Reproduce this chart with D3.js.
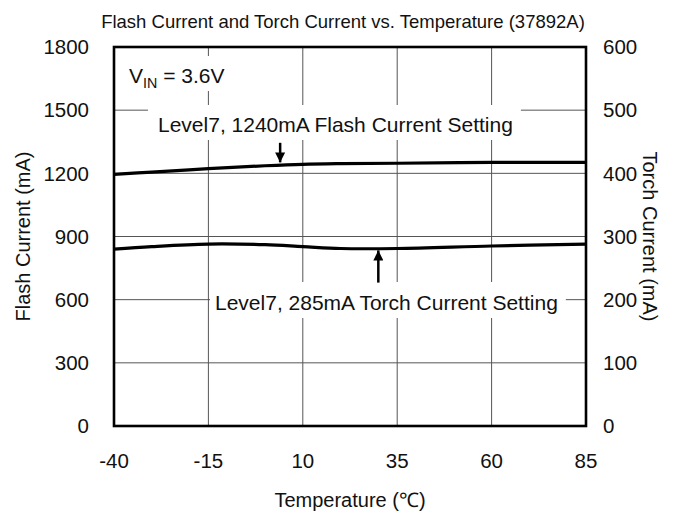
<!DOCTYPE html>
<html>
<head>
<meta charset="utf-8">
<script src="https://cdn.jsdelivr.net/npm/d3@7"></script>
<style>
  html, body { margin: 0; padding: 0; background: #fff; overflow: hidden; }
  svg { display: block; }
  text { font-family: "Liberation Sans", Arial, sans-serif; fill: #111; }
</style>
</head>
<body>
<svg id="chart" width="685" height="512"></svg>
<script>
// data
const temps = [-40, -30, -15, 0, 10, 20, 35, 60, 85];
const flashCurrent = [1195, 1206, 1222, 1236, 1243, 1246, 1248, 1252, 1252]; // mA, left axis
const torchCurrent = [280, 284, 288, 287, 284, 281, 281, 285, 288];          // mA, right axis
const xTicks = [-40, -15, 10, 35, 60, 85];
const flashTicks = [0, 300, 600, 900, 1200, 1500, 1800];
const torchTicks = [0, 100, 200, 300, 400, 500, 600];

let margin = {top: 47, right: 99, bottom: 86, left: 114};
let width = 685, height = 512;
let innerWidth = width - margin.left - margin.right;
let innerHeight = height - margin.top - margin.bottom;

let x = d3.scaleLinear().domain([-40, 85]).range([0, innerWidth]);
let yFlash = d3.scaleLinear().domain([0, 1800]).range([innerHeight, 0]);
let yTorch = d3.scaleLinear().domain([0, 600]).range([innerHeight, 0]);

let svg = d3.select("#chart");
let g = svg.append("g").attr("transform", "translate(" + margin.left + "," + margin.top + ")");

// grid
g.append("g").selectAll("line").data(xTicks.slice(1, -1)).join("line")
  .attr("x1", d => x(d)).attr("x2", d => x(d))
  .attr("y1", 0).attr("y2", innerHeight)
  .attr("stroke", "#555").attr("stroke-width", 1);
g.append("g").selectAll("line").data(flashTicks.slice(1, -1)).join("line")
  .attr("x1", 0).attr("x2", innerWidth)
  .attr("y1", d => yFlash(d)).attr("y2", d => yFlash(d))
  .attr("stroke", "#555").attr("stroke-width", 1);

// labels with white boxes (they hide the grid behind them)
function label(px, py, parts, size, pad) {
  let lg = g.append("g");
  let rect = lg.append("rect").attr("fill", "#fff");
  let t = lg.append("text").attr("x", px).attr("y", py).attr("font-size", size);
  parts.forEach(p => {
    let s = t.append("tspan").text(p.t);
    if (p.sub) s.attr("font-size", size * 0.68).attr("dy", 5);
    if (p.back) s.attr("dy", -5);
  });
  let b = t.node().getBBox();
  rect.attr("x", b.x - pad[0]).attr("y", b.y - pad[1])
    .attr("width", b.width + pad[0] + pad[2]).attr("height", b.height + pad[1] + pad[3]);
}

label(15, 36, [{t: "V"}, {t: "IN", sub: true}, {t: " = 3.6V", back: true}], 21, [6, 8, 6, 0]);
label(44, 85, [{t: "Level7, 1240mA Flash Current Setting"}], 21, [10, 8, 8, 4]);
label(101, 263, [{t: "Level7, 285mA Torch Current Setting"}], 21, [5, 9, 8, 4]);

// curves
let flashLine = d3.line().x((d, i) => x(temps[i])).y(d => yFlash(d)).curve(d3.curveCatmullRom);
let torchLine = d3.line().x((d, i) => x(temps[i])).y(d => yTorch(d)).curve(d3.curveCatmullRom);
g.append("path").datum(flashCurrent).attr("d", flashLine)
  .attr("fill", "none").attr("stroke", "#000").attr("stroke-width", 3.2);
g.append("path").datum(torchCurrent).attr("d", torchLine)
  .attr("fill", "none").attr("stroke", "#000").attr("stroke-width", 3.2);

// arrows
svg.append("defs").append("marker").attr("id", "head")
  .attr("viewBox", "0 0 10 10").attr("refX", 10).attr("refY", 5)
  .attr("markerWidth", 4.5).attr("markerHeight", 4).attr("orient", "auto")
  .append("path").attr("d", "M0,0 L10,5 L0,10 z").attr("fill", "#000");
g.append("line")
  .attr("x1", x(4)).attr("x2", x(4))
  .attr("y1", yFlash(1345)).attr("y2", yFlash(1252))
  .attr("stroke", "#000").attr("stroke-width", 2.5).attr("marker-end", "url(#head)");
g.append("line")
  .attr("x1", x(30)).attr("x2", x(30))
  .attr("y1", yTorch(227)).attr("y2", yTorch(278))
  .attr("stroke", "#000").attr("stroke-width", 2.5).attr("marker-end", "url(#head)");

// frame
g.append("rect").attr("width", innerWidth).attr("height", innerHeight)
  .attr("fill", "none").attr("stroke", "#000").attr("stroke-width", 2.6);

// axes
let fs = 20.5;
g.append("g").selectAll("text").data(xTicks).join("text")
  .attr("x", d => x(d)).attr("y", innerHeight + 42)
  .attr("text-anchor", "middle").attr("font-size", fs).text(d => d);
g.append("g").selectAll("text").data(flashTicks).join("text")
  .attr("x", -25).attr("y", d => yFlash(d)).attr("dy", "0.35em")
  .attr("text-anchor", "end").attr("font-size", fs).text(d => d);
g.append("g").selectAll("text").data(torchTicks).join("text")
  .attr("x", innerWidth + 17).attr("y", d => yTorch(d)).attr("dy", "0.35em")
  .attr("text-anchor", "start").attr("font-size", fs).text(d => d);

// titles
svg.append("text").attr("x", 343).attr("y", 28).attr("text-anchor", "middle")
  .attr("font-size", 18.5).text("Flash Current and Torch Current vs. Temperature (37892A)");
svg.append("text").attr("x", margin.left + innerWidth / 2).attr("y", 507).attr("text-anchor", "middle")
  .attr("font-size", 20).text("Temperature (℃)");
svg.append("text")
  .attr("transform", "translate(30," + (margin.top + innerHeight / 2) + ") rotate(-90)")
  .attr("text-anchor", "middle").attr("font-size", 20).text("Flash Current (mA)");
svg.append("text")
  .attr("transform", "translate(643," + (margin.top + innerHeight / 2) + ") rotate(90)")
  .attr("text-anchor", "middle").attr("font-size", 20).text("Torch Current (mA)");
</script>
</body>
</html>
